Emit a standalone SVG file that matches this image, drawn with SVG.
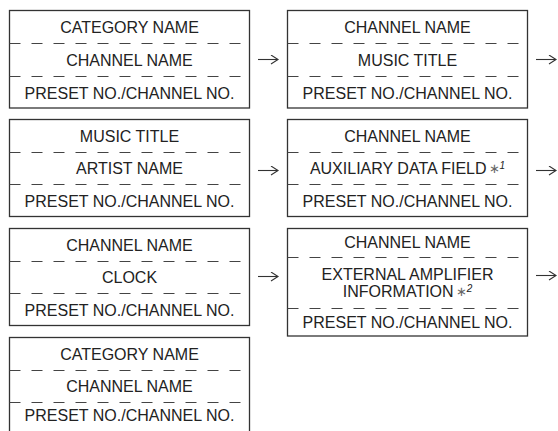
<svg xmlns="http://www.w3.org/2000/svg" width="558" height="431" viewBox="0 0 558 431">
<defs>
<marker id="ah" markerWidth="10" markerHeight="12" refX="8" refY="5" orient="auto" markerUnits="userSpaceOnUse">
<path d="M1,0.5 L8,5 L1,9.5" fill="none" stroke="#333" stroke-width="1.1"/>
</marker>
</defs>
<style>
.box{fill:#fff;stroke:#333;stroke-width:1.3}
.dash{stroke:#444;stroke-width:1.2;stroke-dasharray:11 11;fill:none}
.t{font-family:"Liberation Sans",Arial,sans-serif;font-size:16px;fill:#222;text-anchor:middle}
.ar{stroke:#333;stroke-width:1.1;fill:none;marker-end:url(#ah)}
.ast{font-size:13px;fill:#666}
.sup{font-size:10px;font-style:italic}
</style>
<rect width="558" height="431" fill="#fff"/>
<g id="n1">
<rect class="box" x="9.5" y="10.5" width="240" height="97.5"/>
<path class="dash" d="M9.5 43.5H249.5M9.5 76.5H249.5"/>
<text class="t" x="129.5" y="32.5">CATEGORY NAME</text>
<text class="t" x="129.5" y="65.5">CHANNEL NAME</text>
<text class="t" x="129.5" y="98.5">PRESET NO./CHANNEL NO.</text>
</g>
<g id="n2">
<rect class="box" x="287.5" y="10.5" width="240" height="97.5"/>
<path class="dash" d="M287.5 43.5H527.5M287.5 76.5H527.5"/>
<text class="t" x="407.5" y="32.5">CHANNEL NAME</text>
<text class="t" x="407.5" y="65.5">MUSIC TITLE</text>
<text class="t" x="407.5" y="98.5">PRESET NO./CHANNEL NO.</text>
</g>
<g id="n3">
<rect class="box" x="9.5" y="119.5" width="240" height="97"/>
<path class="dash" d="M9.5 152.5H249.5M9.5 184.5H249.5"/>
<text class="t" x="129.5" y="141.5">MUSIC TITLE</text>
<text class="t" x="129.5" y="174">ARTIST NAME</text>
<text class="t" x="129.5" y="206.5">PRESET NO./CHANNEL NO.</text>
</g>
<g id="n4">
<rect class="box" x="287.5" y="119.5" width="240" height="97"/>
<path class="dash" d="M287.5 152.5H527.5M287.5 184.5H527.5"/>
<text class="t" x="407.5" y="141.5">CHANNEL NAME</text>
<text class="t" x="407.5" y="174">AUXILIARY DATA FIELD<tspan class="ast" dx="2" dy="-1">∗</tspan><tspan class="sup" dy="-4">1</tspan></text>
<text class="t" x="407.5" y="206.5">PRESET NO./CHANNEL NO.</text>
</g>
<g id="n5">
<rect class="box" x="9.5" y="228.5" width="240" height="97"/>
<path class="dash" d="M9.5 261.5H249.5M9.5 293.5H249.5"/>
<text class="t" x="129.5" y="250.5">CHANNEL NAME</text>
<text class="t" x="129.5" y="283">CLOCK</text>
<text class="t" x="129.5" y="315.5">PRESET NO./CHANNEL NO.</text>
</g>
<g id="n6">
<rect class="box" x="287.5" y="228.5" width="240" height="107.5"/>
<path class="dash" d="M287.5 257.5H527.5M287.5 308.5H527.5"/>
<text class="t" x="407.5" y="247.5">CHANNEL NAME</text>
<text class="t" x="407.5" y="280">EXTERNAL AMPLIFIER</text>
<text class="t" x="407.5" y="297">INFORMATION<tspan class="ast" dx="2" dy="-1">∗</tspan><tspan class="sup" dy="-4">2</tspan></text>
<text class="t" x="407.5" y="328">PRESET NO./CHANNEL NO.</text>
</g>
<g id="n7">
<rect class="box" x="9.5" y="337.5" width="240" height="96"/>
<path class="dash" d="M9.5 370.5H249.5M9.5 402.5H249.5"/>
<text class="t" x="129.5" y="359.5">CATEGORY NAME</text>
<text class="t" x="129.5" y="392">CHANNEL NAME</text>
<text class="t" x="129.5" y="420.5">PRESET NO./CHANNEL NO.</text>
</g>
<g id="connectors">
<path class="ar" d="M258 59.5H278"/>
<path class="ar" d="M536 59.5H556"/>
<path class="ar" d="M258 170.5H278"/>
<path class="ar" d="M536 170.5H556"/>
<path class="ar" d="M258 276.5H278"/>
<path class="ar" d="M536 275.5H556"/>
</g>
</svg>
